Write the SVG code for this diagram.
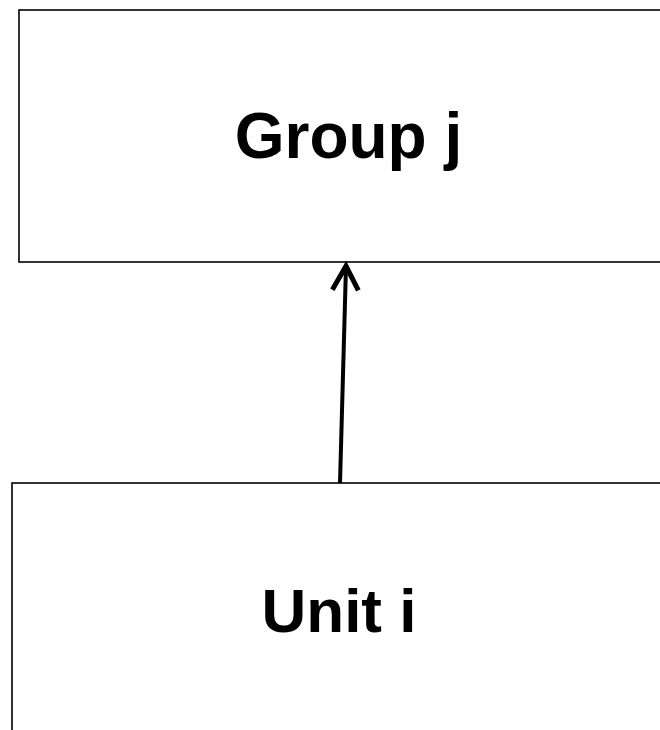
<svg xmlns="http://www.w3.org/2000/svg" width="660" height="730" viewBox="0 0 660 730">
  <style>
    .box { fill: #ffffff; stroke: #000000; stroke-width: 1.6; }
    .label { font-family: "Liberation Sans", Arial, sans-serif; font-weight: bold; font-size: 62px; fill: #000000; text-anchor: middle; }
    .edge { stroke: #000000; stroke-width: 4; fill: none; }
  </style>
  <defs>
    <marker id="openArrow" markerUnits="userSpaceOnUse" markerWidth="40" markerHeight="40" refX="0" refY="0" viewBox="-30 -20 40 40" orient="auto" overflow="visible">
      <path d="M-24,-13 L0,0 L-24,13" fill="none" stroke="#000000" stroke-width="5" stroke-linejoin="miter"/>
    </marker>
  </defs>
  <rect width="660" height="730" fill="#ffffff"/>
  <g id="group-j">
    <rect class="box" x="19" y="10" width="700" height="252"/>
    <text class="label" x="348.5" y="158" style="font-size:64px">Group j</text>
  </g>
  <g id="unit-i">
    <rect class="box" x="12" y="483" width="700" height="300"/>
    <text class="label" x="339" y="632">Unit i</text>
  </g>
  <g id="connectors">
    <line class="edge" x1="340" y1="483" x2="346" y2="266" marker-end="url(#openArrow)"/>
  </g>
</svg>
